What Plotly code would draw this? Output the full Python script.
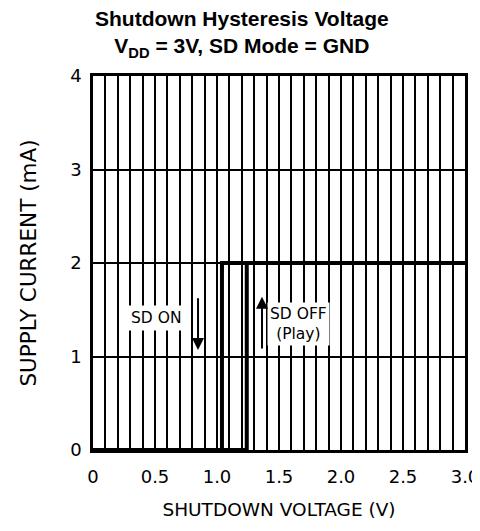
import plotly.graph_objects as go

# SD ON sweep (decreasing voltage) and SD OFF sweep (increasing voltage)
sd_on_v = [3.0, 1.04, 1.04, 0.0]
sd_on_i = [2.0, 2.0, 0.0, 0.0]
sd_off_v = [0.0, 1.24, 1.24, 3.0]
sd_off_i = [0.0, 0.0, 2.0, 2.0]

x_tickvals = [0, 0.5, 1.0, 1.5, 2.0, 2.5, 3.0]
x_ticktext = ["0", "0.5", "1.0", "1.5", "2.0", "2.5", "3.0"]
y_tickvals = [0, 1, 2, 3, 4]
y_ticktext = ["0", "1", "2", "3", "4"]

tick_font = dict(family="DejaVu Sans", size=18, color="black")

fig = go.Figure()
fig.add_trace(go.Scatter(x=sd_on_v, y=sd_on_i, mode="lines",
                         line=dict(color="black", width=4), showlegend=False))
fig.add_trace(go.Scatter(x=sd_off_v, y=sd_off_i, mode="lines",
                         line=dict(color="black", width=4), showlegend=False))

fig.update_layout(
    width=480, height=515,
    margin=dict(l=85, r=23, t=68, b=73),
    paper_bgcolor="white", plot_bgcolor="white",
    xaxis=dict(
        range=[0, 3.0], tickvals=x_tickvals, ticktext=x_ticktext,
        showgrid=True, gridcolor="black", gridwidth=1.5,
        minor=dict(dtick=0.1, tick0=0, showgrid=True, gridcolor="black", gridwidth=1.5),
        showline=True, linecolor="black", linewidth=2.5, mirror=True,
        ticks="", tickfont=tick_font, zeroline=False, automargin=False,
        ticklabelstandoff=9, ticklabeloverflow="allow",
        title=dict(text="SHUTDOWN VOLTAGE (V)",
                   font=dict(family="DejaVu Sans", size=18.5, color="black"), standoff=17),
    ),
    yaxis=dict(
        range=[0, 4], tickvals=y_tickvals, ticktext=y_ticktext,
        showgrid=True, gridcolor="black", gridwidth=1.5,
        showline=True, linecolor="black", linewidth=2.5, mirror=True,
        ticks="", tickfont=tick_font, zeroline=False, ticklabelstandoff=5,
        automargin=False,
        title=dict(text="SUPPLY CURRENT (mA)",
                   font=dict(family="DejaVu Sans", size=21.5, color="black"), standoff=28),
    ),
)

title_font = dict(family="Liberation Sans", size=21, color="black", weight="bold")
fig.add_annotation(xref="paper", yref="paper", x=0.40, y=1.112,
                   xanchor="center", yanchor="middle", showarrow=False,
                   text="Shutdown Hysteresis Voltage<br>V<sub>DD</sub> = 3V, SD Mode = GND",
                   font=title_font)

ann_font = dict(family="DejaVu Sans", size=15.5, color="black")
fig.add_annotation(x=0.512, y=1.41, text="SD ON", showarrow=False,
                   font=ann_font, bgcolor="white", borderpad=3)
fig.add_annotation(x=1.657, y=1.35, text="SD OFF<br>(Play)", showarrow=False,
                   font=ann_font, bgcolor="white", borderpad=2)
# arrows
fig.add_annotation(x=0.847, y=1.07, ax=0.847, ay=1.64, axref="x", ayref="y",
                   text="", showarrow=True, arrowhead=2, arrowsize=1.2,
                   arrowwidth=2, arrowcolor="black")
fig.add_annotation(x=1.363, y=1.64, ax=1.363, ay=1.07, axref="x", ayref="y",
                   text="", showarrow=True, arrowhead=2, arrowsize=1.2,
                   arrowwidth=2, arrowcolor="black")

fig.write_html("out.html")
